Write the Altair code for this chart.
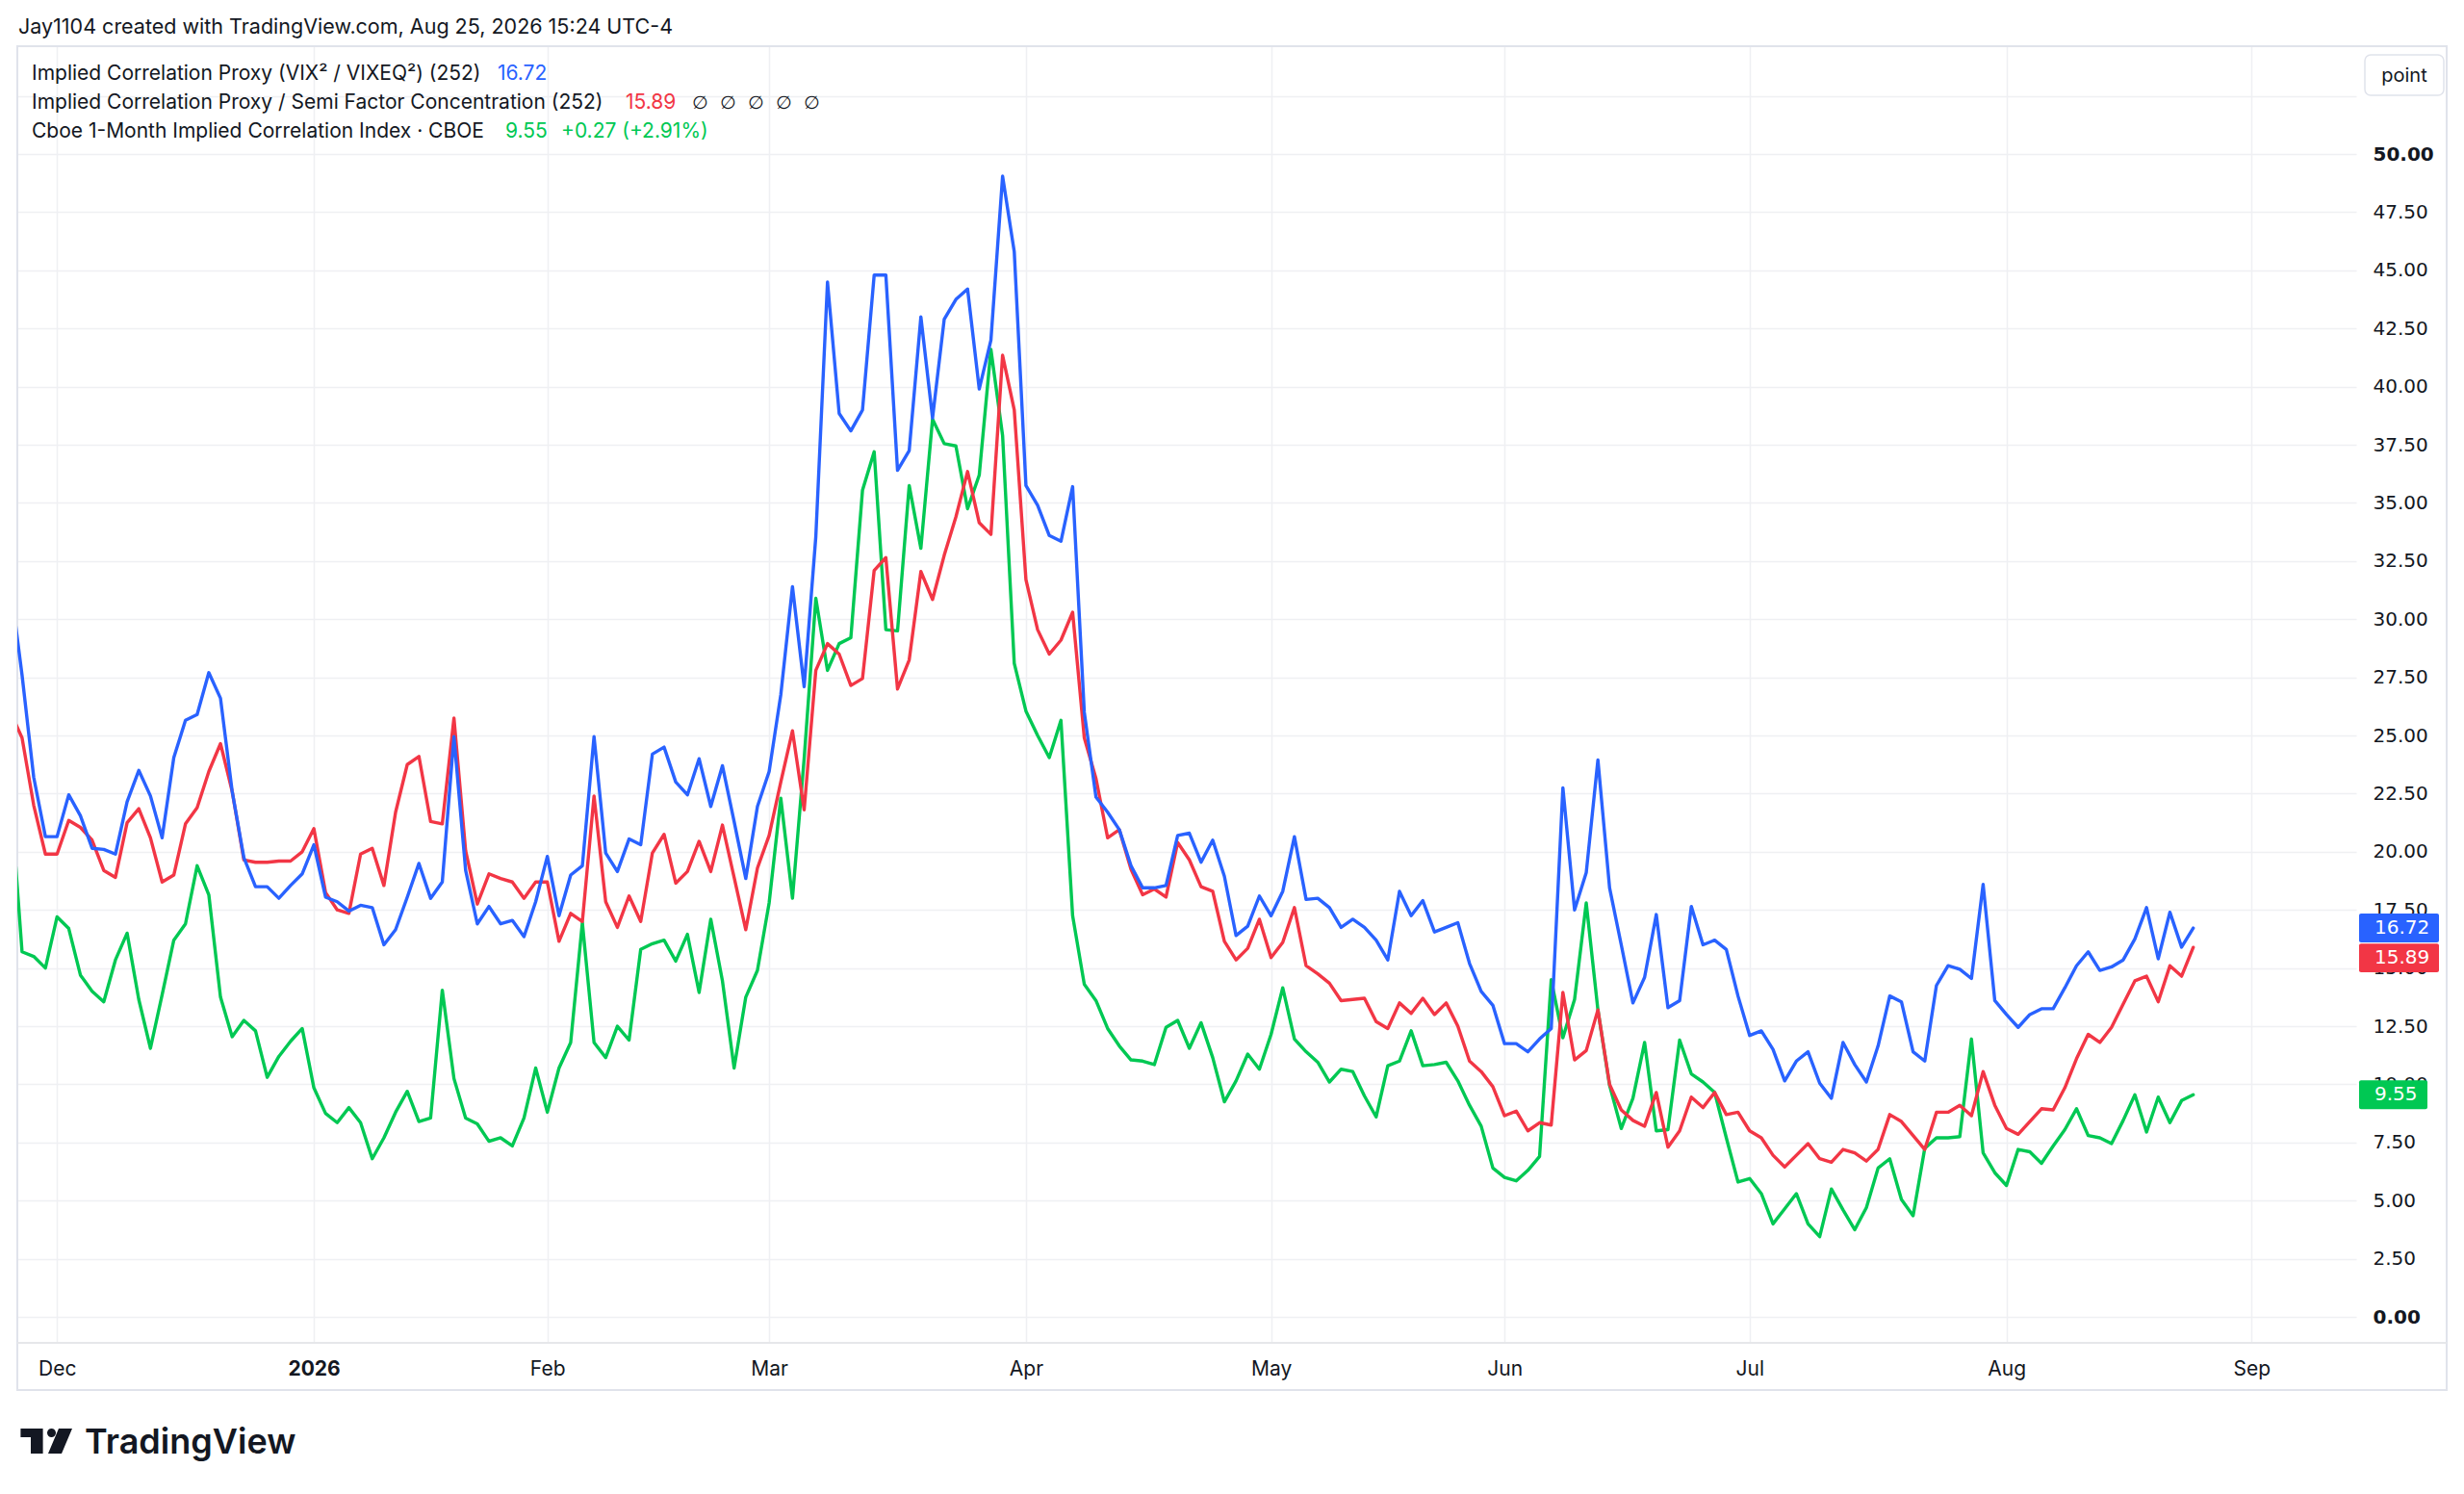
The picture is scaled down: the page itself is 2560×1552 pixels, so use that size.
import altair as alt
import pandas as pd

# ---------------- data ----------------
series_names = [
    "Implied Correlation Proxy (VIX² / VIXEQ²) (252)",
    "Implied Correlation Proxy / Semi Factor Concentration (252)",
    "Cboe 1-Month Implied Correlation Index · CBOE",
]
series_colors = ["#2962ff", "#f23645", "#00c853"]
last_labels = ["16.72", "15.89", "9.55"]
change_label = "+0.27 (+2.91%)"
header_text = "Jay1104 created with TradingView.com, Aug 25, 2026 15:24 UTC-4"
month_labels = ["Dec", "2026", "Feb", "Mar", "Apr", "May", "Jun", "Jul", "Aug", "Sep"]
y_ticks = [0, 2.5, 5, 7.5, 10, 12.5, 15, 17.5, 20, 22.5, 25, 27.5, 30, 32.5,
           35, 37.5, 40, 42.5, 45, 47.5, 50, 52.5]
holidays = ["2025-11-27", "2025-12-25", "2026-01-01", "2026-01-19", "2026-02-16",
            "2026-04-03", "2026-05-25", "2026-06-19", "2026-07-03"]

blue = [31.5, 27.6, 23.2, 20.65,
        20.65, 22.45, 21.55, 20.15, 20.1, 19.9, 22.15, 23.5, 22.4, 20.6, 24.05, 25.65, 25.9, 27.7, 26.6, 22.6, 19.75, 18.5, 18.5, 18.0, 18.55, 19.05,
        20.3, 18.05, 17.85, 17.45, 17.7, 17.6, 16.0, 16.65, 18.05, 19.5, 18.0, 18.7, 24.95, 19.2, 16.9, 17.65, 16.9, 17.05, 16.35, 17.85,
        19.8, 17.25, 19.0, 19.4, 24.95, 19.95, 19.15, 20.55, 20.3, 24.2, 24.5, 23.0, 22.45, 24.0, 21.95, 23.7, 21.3, 18.85, 21.95,
        23.45, 26.75, 31.4, 27.1, 33.55, 44.5, 38.85, 38.1, 39.0, 44.8, 44.8, 36.4, 37.25, 43.0, 38.65, 42.9, 43.75, 44.2, 39.9, 42.0, 49.05, 45.8,
        35.75, 34.9, 33.6, 33.35, 35.7, 26.0, 22.35, 21.7, 20.95, 19.4, 18.45, 18.45, 18.55, 20.7, 20.8, 19.55, 20.5, 18.95, 16.4, 16.8, 18.1,
        17.25, 18.3, 20.65, 17.95, 18.0, 17.6, 16.75, 17.1, 16.75, 16.2, 15.35, 18.3, 17.25, 17.9, 16.55, 16.75, 16.95, 15.2, 14.0, 13.4,
        11.75, 11.75, 11.4, 11.95, 12.4, 22.75, 17.5, 19.1, 23.95, 18.45, 16.0, 13.5, 14.6, 17.3, 13.3, 13.6, 17.65, 16.0, 16.2, 15.8, 13.8,
        12.1, 12.3, 11.5, 10.15, 11.0, 11.4, 10.05, 9.4, 11.8, 10.85, 10.1, 11.65, 13.8, 13.55, 11.4, 11.0, 14.25, 15.1, 14.95, 14.55, 18.6, 13.6,
        13.0, 12.45, 13.0, 13.25, 13.25, 14.15, 15.1, 15.7, 14.9, 15.05, 15.35, 16.25, 17.6, 15.4, 17.4, 15.9, 16.72]

red = [26.0, 24.9, 22.0, 19.9,
       19.9, 21.35, 21.05, 20.5, 19.2, 18.9, 21.25, 21.85, 20.6, 18.7, 19.0, 21.2, 21.9, 23.45, 24.65, 22.6, 19.65, 19.55, 19.55, 19.6, 19.6, 20.0,
       21.0, 18.25, 17.5, 17.35, 19.9, 20.15, 18.55, 21.7, 23.75, 24.1, 21.3, 21.2, 25.75, 20.05, 17.75, 19.05, 18.85, 18.7, 18.0, 18.7,
       18.7, 16.15, 17.35, 17.0, 22.4, 17.85, 16.75, 18.1, 17.0, 19.95, 20.75, 18.65, 19.15, 20.45, 19.15, 21.15, 18.9, 16.65, 19.3,
       20.7, 23.0, 25.2, 21.8, 27.8, 28.95, 28.5, 27.15, 27.45, 32.1, 32.65, 27.0, 28.25, 32.05, 30.85, 32.75, 34.4, 36.35, 34.15, 33.65, 41.35, 39.0,
       31.7, 29.55, 28.5, 29.1, 30.3, 24.9, 23.15, 20.6, 20.95, 19.25, 18.15, 18.4, 18.05, 20.4, 19.65, 18.5, 18.3, 16.15, 15.35, 15.85, 17.1,
       15.45, 16.1, 17.6, 15.1, 14.75, 14.35, 13.6, 13.65, 13.7, 12.7, 12.4, 13.5, 13.05, 13.7, 13.0, 13.5, 12.5, 11.0, 10.55, 9.9,
       8.65, 8.85, 8.0, 8.35, 8.25, 13.95, 11.05, 11.45, 13.2, 10.0, 8.9, 8.45, 8.2, 9.65, 7.3, 8.0, 9.45, 9.0, 9.65, 8.7, 8.8,
       8.0, 7.7, 6.95, 6.45, 6.95, 7.45, 6.8, 6.65, 7.2, 7.05, 6.7, 7.2, 8.7, 8.4, 7.8, 7.2, 8.8, 8.8, 9.1, 8.65, 10.55, 9.1,
       8.1, 7.85, 8.4, 8.95, 8.9, 9.85, 11.1, 12.15, 11.8, 12.45, 13.45, 14.45, 14.65, 13.55, 15.1, 14.65, 15.89]

green = [22.5, 15.7, 15.5, 15.0,
         17.2, 16.7, 14.7, 14.0, 13.55, 15.35, 16.5, 13.65, 11.55, 13.85, 16.2, 16.9, 19.4, 18.15, 13.75, 12.05, 12.75, 12.3, 10.3, 11.2, 11.85, 12.4,
         9.85, 8.75, 8.35, 9.0, 8.35, 6.8, 7.7, 8.8, 9.7, 8.4, 8.55, 14.05, 10.25, 8.55, 8.3, 7.55, 7.7, 7.35, 8.55, 10.7,
         8.8, 10.7, 11.8, 16.95, 11.8, 11.15, 12.5, 11.9, 15.8, 16.05, 16.2, 15.3, 16.45, 13.95, 17.1, 14.45, 10.7, 13.75, 14.9,
         17.8, 22.3, 18.0, 24.0, 30.9, 27.8, 28.95, 29.2, 35.55, 37.2, 29.55, 29.5, 35.75, 33.05, 38.6, 37.55, 37.45, 34.75, 36.2, 41.6, 37.9, 28.1,
         26.05, 25.0, 24.05, 25.65, 17.25, 14.3, 13.6, 12.4, 11.65, 11.05, 11.0, 10.85, 12.45, 12.75, 11.55, 12.65, 11.15, 9.25, 10.15, 11.3, 10.65,
         12.15, 14.15, 11.95, 11.4, 10.95, 10.1, 10.65, 10.55, 9.5, 8.6, 10.8, 11.0, 12.3, 10.8, 10.85, 10.95, 10.15, 9.1, 8.2, 6.4,
         6.0, 5.85, 6.3, 6.9, 14.5, 12.0, 13.65, 17.8, 13.2, 9.95, 8.1, 9.4, 11.8, 8.0, 8.05, 11.9, 10.45, 10.1, 9.65, 7.7, 5.8,
         5.95, 5.3, 4.0, 4.65, 5.3, 4.0, 3.45, 5.5, 4.6, 3.75, 4.7, 6.4, 6.8, 5.05, 4.35, 7.25, 7.7, 7.7, 7.75, 11.95, 7.05, 6.2,
         5.65, 7.2, 7.1, 6.6, 7.35, 8.05, 8.95, 7.8, 7.7, 7.45, 8.45, 9.55, 7.95, 9.45, 8.35, 9.3, 9.55]

# ---------------- trading-day index ----------------
all_days = pd.bdate_range("2025-11-24", "2026-08-25")
dates = [d for d in all_days if d.strftime("%Y-%m-%d") not in holidays]
n = min(len(dates), len(blue))
dates = dates[:n]

tick_idx = [i for i in range(1, n) if dates[i].month != dates[i - 1].month]
extra = len(pd.bdate_range(dates[-1] + pd.Timedelta(days=1), "2026-09-01"))
tick_idx.append(n - 1 + extra)
year_tick = tick_idx[month_labels.index("2026")]

rows = []
for name, vals in zip(series_names, [blue, red, green]):
    for i in range(n):
        rows.append({"i": i, "date": dates[i].strftime("%Y-%m-%d"), "value": vals[i], "series": name})
df = pd.DataFrame(rows)

df_last = pd.DataFrame({"series": series_names,
                        "value": [blue[n - 1], red[n - 1], green[n - 1]],
                        "lab": last_labels})
one = pd.DataFrame({"k": [0]})

# ---------------- style ----------------
W, H = 2430, 1347
TXT = "#131722"
GRID = "#eff0f3"
BORDER = "#e0e3eb"
FONT = "Inter"
AXFONT = "DejaVu Sans"

xscale = alt.Scale(domain=[0.595, 200.96], nice=False, zero=False)
yscale = alt.Scale(domain=[-1.117, 54.64], nice=False, zero=False)

lab_arr = "[" + ",".join("'%s'" % m for m in month_labels) + "]"
idx_arr = "[" + ",".join(str(t) for t in tick_idx) + "]"

xaxis = alt.Axis(values=tick_idx, labelExpr=f"{lab_arr}[indexof({idx_arr}, datum.value)]",
                 grid=True, gridColor=GRID, gridWidth=1.5, ticks=False, tickSize=0, domain=False,
                 labelPadding=27, labelBaseline="middle", labelFont=FONT, labelFontSize=21,
                 labelColor=TXT, labelFlush=False, labelOverlap=False, title=None,
                 labelFontWeight={"condition": {"test": f"datum.value == {year_tick}", "value": "bold"},
                                  "value": "normal"})
yaxis = alt.Axis(orient="right", values=y_ticks,
                 labelExpr="datum.value > 51 ? '' : format(datum.value, '.2f')",
                 grid=True, gridColor=GRID, gridWidth=1.5, ticks=False, tickSize=0, domain=False,
                 labelPadding=17, labelAlign="left", labelBaseline="middle", labelFont=AXFONT,
                 labelFontSize=20, labelColor=TXT, labelOverlap=False, labelFlush=False, title=None,
                 labelFontWeight={"condition": {"test": "datum.value == 0 || datum.value == 50",
                                                "value": "bold"}, "value": "normal"})

layers = []

# outer frame and separator
layers.append(alt.Chart(one).mark_rect(fill="transparent", stroke=BORDER, strokeWidth=2).encode(
    x=alt.value(0), x2=alt.value(2524), y=alt.value(0), y2=alt.value(1396)))
layers.append(alt.Chart(one).mark_rule(color="#e6e7ea", strokeWidth=2).encode(
    x=alt.value(0), x2=alt.value(2524), y=alt.value(H)))

# series lines (green, red, blue so that blue is on top)
for k in [2, 1, 0]:
    layers.append(
        alt.Chart(df).transform_filter(alt.datum.series == series_names[k])
        .mark_line(color=series_colors[k], strokeWidth=3.4, clip=True, strokeJoin="round", strokeCap="round")
        .encode(x=alt.X("i:Q", scale=xscale, axis=xaxis),
                y=alt.Y("value:Q", scale=yscale, axis=yaxis))
    )

# last value boxes on the price axis
box_right = [2516, 2516, 2504]
box_shift = [0, 11, 0]
for k in range(3):
    base = alt.Chart(df_last).transform_filter(alt.datum.series == series_names[k])
    layers.append(
        base.transform_calculate(lo="datum.value - 0.62", hi="datum.value + 0.62")
        .mark_rect(color=series_colors[k], cornerRadius=2, yOffset=box_shift[k], y2Offset=box_shift[k])
        .encode(x=alt.value(2433), x2=alt.value(box_right[k]),
                y=alt.Y("lo:Q", scale=yscale, axis=yaxis), y2="hi:Q")
    )
    layers.append(
        base.mark_text(align="left", baseline="middle", color="white", font=AXFONT, fontSize=20,
                       dy=box_shift[k])
        .encode(x=alt.value(2449), y=alt.Y("value:Q", scale=yscale, axis=yaxis), text="lab:N")
    )


def label(text, x, y, color=TXT, size=21, weight="normal", font=FONT, align="left",
          baseline="middle"):
    return alt.Chart(one).mark_text(text=text, align=align, baseline=baseline, color=color,
                                    fontSize=size, fontWeight=weight, font=font).encode(
        x=alt.value(x), y=alt.value(y))


# header
layers.append(label(header_text, 1, -19, size=21.5))
# legend
layers.append(label(series_names[0], 15, 29))
layers.append(label(last_labels[0], 499, 29, color=series_colors[0]))
layers.append(label(series_names[1], 15, 59))
layers.append(label(last_labels[1], 632, 59, color=series_colors[1]))
for j in range(5):
    layers.append(label("∅", 701 + 29 * j, 59, size=19, font="DejaVu Sans"))
layers.append(label(series_names[2], 15, 89))
layers.append(label(last_labels[2], 507, 89, color=series_colors[2]))
layers.append(label(change_label, 565, 89, color=series_colors[2]))

# "point" button
layers.append(alt.Chart(one).mark_rect(fill="white", stroke=BORDER, strokeWidth=1.5, cornerRadius=6).encode(
    x=alt.value(2439), x2=alt.value(2521), y=alt.value(9), y2=alt.value(51)))
layers.append(label("point", 2480, 31, size=20, align="center"))

# TradingView logo
logo_path = ("M -0.985 -0.481 L -0.126 -0.481 L -0.126 0.481 L -0.593 0.481 L -0.593 -0.148 L -0.985 -0.148 Z "
             "M 0.037 -0.315 A 0.167 0.167 0 1 0 0.371 -0.315 A 0.167 0.167 0 1 0 0.037 -0.315 Z "
             "M 0.481 -0.481 L 1 -0.481 L 0.593 0.481 L 0.074 0.481 Z")
layers.append(alt.Chart(one).mark_point(shape=logo_path, filled=True, color=TXT, opacity=1,
                                        size=2916, strokeWidth=0).encode(
    x=alt.value(30), y=alt.value(1449)))
layers.append(label("TradingView", 70, 1462, size=36, weight=600, baseline="alphabetic"))

chart = alt.layer(*layers).properties(
    width=W, height=H,
    autosize=alt.AutoSizeParams(type="none"),
    padding={"left": 10, "top": 40, "right": 100, "bottom": 145},
    background="white",
).configure_view(stroke=None)

chart.save("out.html", embed_options={"renderer": "svg", "actions": False})
